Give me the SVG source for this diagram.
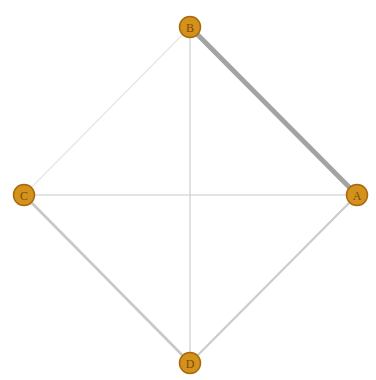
<svg xmlns="http://www.w3.org/2000/svg" width="376" height="380" viewBox="0 0 376 380">
<style>
.edge{stroke:#bdbdbd;fill:none;stroke-linecap:round}
.node circle{fill:#d4921c;stroke:#a8690c;stroke-width:1.5}
.node text{font-family:"Liberation Serif",serif;font-size:12px;fill:#7a4a06;text-anchor:middle;dominant-baseline:central}
</style>
<rect width="376" height="380" fill="#ffffff"/>
<g id="connectors">
<line class="edge" x1="190" y1="27" x2="24" y2="195" stroke-width="1.2" style="stroke:#e6e6e6"/>
<line class="edge" x1="24" y1="195" x2="357" y2="195" stroke-width="1.3" style="stroke:#dcdcdc"/>
<line class="edge" x1="190" y1="27" x2="190" y2="363" stroke-width="1.3" style="stroke:#d2d2d2"/>
<line class="edge" x1="24" y1="195" x2="190" y2="363" stroke-width="2.6" style="stroke:#c8c8c8"/>
<line class="edge" x1="357" y1="195" x2="190" y2="363" stroke-width="2.2" style="stroke:#cccccc"/>
<line class="edge" x1="190" y1="27" x2="357" y2="195" stroke-width="4.8" style="stroke:#a3a3a3"/>
</g>
<g id="node-B" class="node"><circle cx="190" cy="27" r="10.5"/><text x="190" y="28">B</text></g>
<g id="node-C" class="node"><circle cx="24" cy="195" r="10.5"/><text x="24" y="196">C</text></g>
<g id="node-A" class="node"><circle cx="357" cy="195" r="10.5"/><text x="357" y="196">A</text></g>
<g id="node-D" class="node"><circle cx="190" cy="363" r="10.5"/><text x="190" y="364">D</text></g>
</svg>
